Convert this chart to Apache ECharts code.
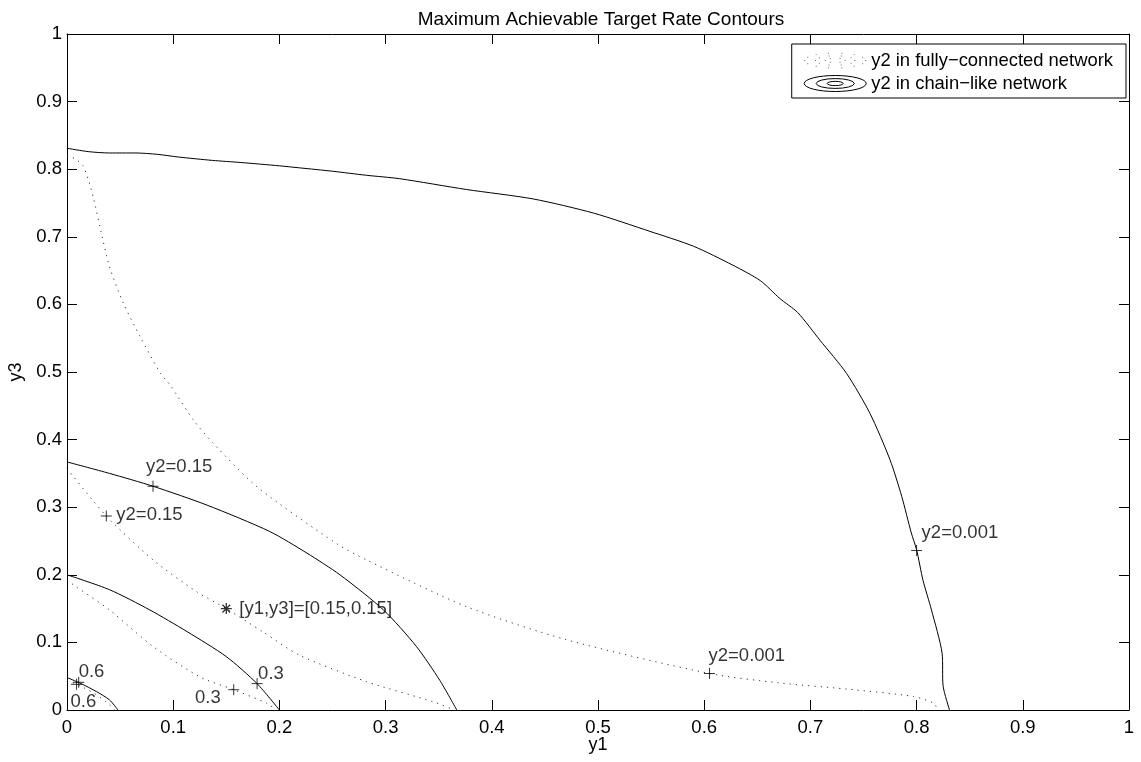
<!DOCTYPE html>
<html>
<head>
<meta charset="utf-8">
<script src="https://cdn.jsdelivr.net/npm/echarts@6/dist/echarts.min.js"></script>
<style>html,body{margin:0;padding:0;background:#fff}#c{width:1141px;height:762px}</style>
</head>
<body>
<div id="c"></div>
<script>
// ---- data ----
var titleText = 'Maximum Achievable Target Rate Contours';
var xName = 'y1', yName = 'y3';
var nameFull = 'y2 in fully\u2212connected network';
var nameChain = 'y2 in chain\u2212like network';

var chain0001 = [[0,0.831],[0.02,0.826],[0.04,0.824],[0.065,0.824],[0.085,0.822],[0.105,0.818],[0.137,0.813],[0.163,0.810],[0.2,0.805],[0.219,0.802],[0.25,0.797],[0.282,0.791],[0.313,0.786],[0.376,0.770],[0.439,0.756],[0.496,0.735],[0.549,0.708],[0.590,0.686],[0.627,0.658],[0.653,0.635],[0.671,0.609],[0.688,0.588],[0.709,0.547],[0.734,0.498],[0.756,0.439],[0.775,0.370],[0.786,0.316],[0.795,0.262],[0.800,0.237],[0.806,0.192],[0.814,0.148],[0.824,0.084],[0.825,0.035],[0.831,0]];
var full0001 = [[0,0.820],[0.008,0.815],[0.015,0.805],[0.020,0.785],[0.025,0.757],[0.031,0.715],[0.040,0.656],[0.053,0.602],[0.069,0.552],[0.088,0.498],[0.097,0.481],[0.119,0.429],[0.138,0.394],[0.179,0.330],[0.254,0.246],[0.282,0.222],[0.376,0.153],[0.470,0.104],[0.605,0.054],[0.671,0.040],[0.734,0.031],[0.797,0.020],[0.816,0.010],[0.820,0]];
var chain015 = [[0,0.367],[0.04,0.350],[0.081,0.331],[0.132,0.303],[0.191,0.264],[0.226,0.232],[0.257,0.200],[0.298,0.148],[0.329,0.094],[0.351,0.044],[0.367,0]];
var full015 = [[0,0.357],[0.037,0.287],[0.081,0.222],[0.122,0.175],[0.150,0.150],[0.185,0.115],[0.219,0.081],[0.282,0.042],[0.345,0.012],[0.365,0]];
var chain03 = [[0,0.200],[0.040,0.178],[0.078,0.148],[0.113,0.116],[0.150,0.079],[0.179,0.039],[0.200,0]];
var full03 = [[0,0.192],[0.008,0.183],[0.040,0.148],[0.081,0.094],[0.125,0.049],[0.157,0.030],[0.188,0.010],[0.197,0]];
var chain06 = [[0,0.048],[0.012,0.040],[0.028,0.027],[0.040,0.015],[0.048,0]];
var full06 = [[0,0.044],[0.012,0.036],[0.025,0.025],[0.037,0.012],[0.045,0]];

var plusPoints = [[0.081,0.331],[0.037,0.287],[0.605,0.054],[0.800,0.236],[0.179,0.039],[0.157,0.030],[0.011,0.041],[0.009,0.038]];
var plusTexts = ['y2=0.15','y2=0.15','y2=0.001','y2=0.001','0.3','0.3','0.6','0.6'];
var starPoints = [[0.150,0.150]];
var starTexts = ['[y1,y3]=[0.15,0.15]'];

// ---- styles / label placement (not data) ----
var plusLabelStyle = [
  {align:'left', offset:[-7,-19]},
  {align:'left', offset:[10,-1]},
  {align:'left', offset:[-1,-18]},
  {align:'left', offset:[5,-18]},
  {align:'left', offset:[1,-10]},
  {align:'right', offset:[-13,8]},
  {align:'left', offset:[0,-10]},
  {align:'left', offset:[-6,18]}
];
var starLabelStyle = [{align:'left', offset:[13,0]}];

var FONT = '"Liberation Sans", Arial, Helvetica, sans-serif';
var chart = echarts.init(document.getElementById('c'), null, {renderer:'canvas'});

function solid(data){
  return {type:'line', name:nameChain, data:data, showSymbol:false, symbol:'none', smooth:0.25,
    lineStyle:{color:'#000', width:1}, itemStyle:{color:'#000'}, z:3, silent:true};
}
function dotted(data){
  return {type:'line', name:nameFull, data:data, showSymbol:false, symbol:'none', smooth:0.25,
    lineStyle:{color:'#333', width:1, type:[1.2,5]}, itemStyle:{color:'#333'}, z:2, silent:true};
}
function markerData(points, texts, styles){
  return points.map(function(p,i){
    var s = styles[i];
    return {value:p, label:{show:true, formatter:texts[i], position:'inside', align:s.align,
      verticalAlign:'middle', offset:s.offset, color:'#000', fontSize:18.5, fontFamily:FONT}};
  });
}

// legend icons (decoration only)
var ellipseIcon = 'path://M0.5,8A31,7.5 0 1,0 62.5,8A31,7.5 0 1,0 0.5,8Z M12.5,8A19,4.6 0 1,0 50.5,8A19,4.6 0 1,0 12.5,8Z M23.5,8A8,2 0 1,0 39.5,8A8,2 0 1,0 23.5,8Z';
var dotIcon = (function(){
  var s = 'path://M0,0h0.1v0.1h-0.1z M63,16h0.1v0.1h-0.1z';
  var rings = [[31,7.5,14],[20,4.8,10],[10,2.2,6]];
  rings.forEach(function(r){
    for (var k=0;k<r[2];k++){
      var a = k/r[2]*Math.PI*2;
      var x = 31.5 + r[0]*Math.cos(a), y = 8 + r[1]*Math.sin(a);
      s += ' M'+(x-0.5).toFixed(2)+','+(y-0.5).toFixed(2)+'h1v1h-1z';
    }
  });
  return s;
})();

var axisCommon = {
  type:'value', min:0, max:1, interval:0.1,
  axisLine:{show:true, onZero:false, lineStyle:{color:'#000', width:1}},
  axisTick:{show:true, inside:true, length:10, lineStyle:{color:'#000', width:1}},
  splitLine:{show:false}
};

var option = {
  animation:false,
  backgroundColor:'#fff',
  textStyle:{fontFamily:FONT},
  title:{text:titleText, left:596, textAlign:'center', top:5,
    textStyle:{fontSize:19, fontWeight:'normal', color:'#000', fontFamily:FONT}},
  legend:{
    orient:'vertical', right:15, top:44,
    backgroundColor:'#fff', borderColor:'#000', borderWidth:1, borderRadius:0,
    padding:[7,13,4,10], itemWidth:62, itemHeight:16, itemGap:3,
    textStyle:{fontSize:18.4, color:'#000', fontFamily:FONT, lineHeight:19},
    symbolKeepAspect:false,
    data:[
      {name:nameFull, icon:dotIcon, itemStyle:{color:'#666', borderWidth:0}},
      {name:nameChain, icon:ellipseIcon, itemStyle:{color:'none', borderColor:'#000', borderWidth:1}}
    ],
    selectedMode:false
  },
  grid:{left:67, right:12, top:34, bottom:52, containLabel:false, outerBoundsMode:'none'},
  xAxis:[
    Object.assign({}, axisCommon, {position:'bottom', name:xName, nameLocation:'middle', nameGap:26,
      nameMoveOverlap:false,
      nameTextStyle:{fontSize:18, color:'#000', fontFamily:FONT},
      axisLabel:{show:true, margin:8, fontSize:18.5, color:'#000', fontFamily:FONT}}),
    Object.assign({}, axisCommon, {position:'top', axisLabel:{show:false}})
  ],
  yAxis:[
    Object.assign({}, axisCommon, {position:'left', name:yName, nameLocation:'middle', nameGap:42,
      nameMoveOverlap:false,
      nameTextStyle:{fontSize:18, color:'#000', fontFamily:FONT},
      axisLabel:{show:true, margin:5, fontSize:18.5, color:'#000', fontFamily:FONT}}),
    Object.assign({}, axisCommon, {position:'right', axisLabel:{show:false}})
  ],
  series:[
    dotted(full0001), dotted(full015), dotted(full03), dotted(full06),
    solid(chain0001), solid(chain015), solid(chain03), solid(chain06),
    {type:'scatter', name:'plus markers', data:markerData(plusPoints, plusTexts, plusLabelStyle),
      symbol:'path://M0,5L10,5M5,0L5,10', symbolSize:11, z:5, silent:true,
      itemStyle:{color:'none', borderColor:'#000', borderWidth:1}},
    {type:'scatter', name:'star marker', data:markerData(starPoints, starTexts, starLabelStyle),
      symbol:'path://M5,0L5,10M0,5L10,5M1.5,1.5L8.5,8.5M1.5,8.5L8.5,1.5', symbolSize:11, z:5, silent:true,
      itemStyle:{color:'none', borderColor:'#000', borderWidth:1.3}}
  ]
};
chart.setOption(option);
</script>
</body>
</html>
